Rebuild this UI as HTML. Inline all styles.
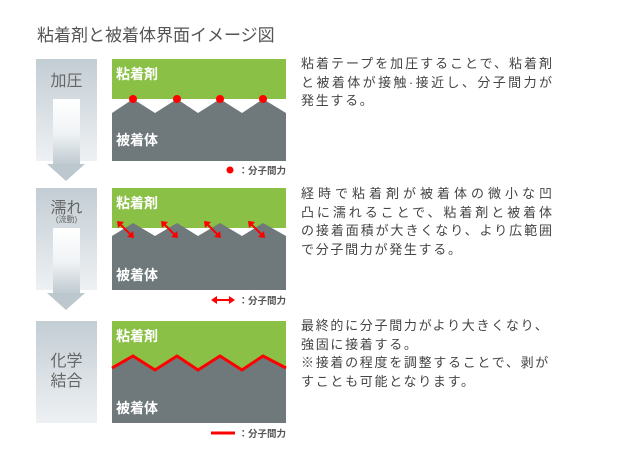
<!DOCTYPE html>
<html><head><meta charset="utf-8"><style>
body{margin:0;background:#fff;}
#root{position:relative;width:620px;height:470px;overflow:hidden;font-family:"Liberation Sans","Noto Sans CJK JP",sans-serif;}
svg{position:absolute;left:0;top:0;}
.desc{position:absolute;left:301px;width:251px;font-size:13px;line-height:18.6px;color:#444;}
.desc div{text-align:justify;text-align-last:justify;white-space:nowrap;}
.desc div.last{text-align-last:left;letter-spacing:1.7px;}
</style></head><body>
<div id="root">
<svg width="620" height="470" font-family="Liberation Sans, Noto Sans CJK JP, sans-serif">
<defs>
<linearGradient id="box" x1="0" y1="0" x2="0" y2="1"><stop offset="0" stop-color="#c3cdd4"/><stop offset="1" stop-color="#eef1f3"/></linearGradient>
<linearGradient id="shaft" x1="0" y1="0" x2="0" y2="1"><stop offset="0" stop-color="#ffffff"/><stop offset="0.5" stop-color="#f0f3f5"/><stop offset="1" stop-color="#bcc7ce"/></linearGradient>
</defs>
<text x="37" y="41" font-size="17" fill="#555">粘着剤と被着体界面イメージ図</text>

<g>
<rect x="36" y="59" width="61" height="102" fill="url(#box)"/>
<text x="66.5" y="86" font-size="16" fill="#666" text-anchor="middle">加圧</text>
<rect x="53" y="99" width="27" height="68" fill="url(#shaft)"/>
<polygon points="47,164 85,164 66,181" fill="#bcc7ce"/>
<rect x="112" y="59" width="174" height="40" fill="#8bc046"/>
<polygon points="112,113 133,99 155,113 177,99 198,113 220,99 242,113 263,99 286,113 286,161 112,161" fill="#6f797c"/>
<text x="116" y="79" font-size="14" fill="#fff" font-weight="bold">粘着剤</text>
<text x="116" y="145" font-size="14" fill="#fff" font-weight="bold">被着体</text>
<circle cx="133" cy="99" r="4" fill="#f00"/><circle cx="177" cy="99" r="4" fill="#f00"/><circle cx="220" cy="99" r="4" fill="#f00"/><circle cx="263" cy="99" r="4" fill="#f00"/>
<circle cx="230" cy="170" r="3.5" fill="#f00"/>
<text x="286" y="174" font-size="9.5" fill="#555" text-anchor="end" font-weight="bold">：分子間力</text>
</g>

<g>
<rect x="36" y="188" width="61" height="102" fill="url(#box)"/>
<text x="66.5" y="213" font-size="16" fill="#666" text-anchor="middle">濡れ</text>
<text x="66.5" y="222" font-size="8" fill="#666" text-anchor="middle">(流動)</text>
<rect x="53" y="228" width="27" height="68" fill="url(#shaft)"/>
<polygon points="47,293 85,293 66,310" fill="#bcc7ce"/>
<rect x="112" y="188" width="174" height="40" fill="#8bc046"/>
<polygon points="112,236 133,223 155,236 177,223 198,236 220,223 242,236 263,223 286,236 286,290 112,290" fill="#6f797c"/>
<text x="116" y="208" font-size="14" fill="#fff" font-weight="bold">粘着剤</text>
<text x="116" y="280" font-size="14" fill="#fff" font-weight="bold">被着体</text>
<g stroke="#f00" stroke-width="2" fill="#f00">
<line x1="120" y1="224" x2="131" y2="235"/><line x1="164" y1="224" x2="175" y2="235"/><line x1="207" y1="224" x2="218" y2="235"/><line x1="251" y1="224" x2="262" y2="235"/>
</g>
<g fill="#f00">
<polygon points="117,221 124,222 118,228"/><polygon points="134,238 127,237 133,231"/>
<polygon points="161,221 168,222 162,228"/><polygon points="178,238 171,237 177,231"/>
<polygon points="204,221 211,222 205,228"/><polygon points="221,238 214,237 220,231"/>
<polygon points="248,221 255,222 249,228"/><polygon points="265,238 258,237 264,231"/>
</g>
<line x1="216" y1="300" x2="230" y2="300" stroke="#f00" stroke-width="2"/>
<polygon points="211,300 217,296 217,304" fill="#f00"/><polygon points="235,300 229,296 229,304" fill="#f00"/>
<text x="286" y="304" font-size="9.5" fill="#555" text-anchor="end" font-weight="bold">：分子間力</text>
</g>

<g>
<rect x="36" y="321" width="61" height="102" fill="url(#box)"/>
<text x="66.5" y="366" font-size="16" fill="#666" text-anchor="middle">化学</text>
<text x="66.5" y="386" font-size="16" fill="#666" text-anchor="middle">結合</text>
<rect x="112" y="321" width="174" height="102" fill="#6f797c"/>
<polygon points="112,321 286,321 286,368 263,356 242,370 220,356 198,370 177,356 155,370 133,356 112,368" fill="#8bc046"/>
<polyline points="112,368 133,356 155,370 177,356 198,370 220,356 242,370 263,356 286,368" fill="none" stroke="#f00" stroke-width="3"/>
<text x="116" y="341" font-size="14" fill="#fff" font-weight="bold">粘着剤</text>
<text x="116" y="413" font-size="14" fill="#fff" font-weight="bold">被着体</text>
<line x1="211" y1="433" x2="235" y2="433" stroke="#f00" stroke-width="3"/>
<text x="286" y="437" font-size="9.5" fill="#555" text-anchor="end" font-weight="bold">：分子間力</text>
</g>
</svg>

<div class="desc" style="top:55px">
<div>粘着テープを加圧することで、粘着剤</div>
<div>と被着体が接触·接近し、分子間力が</div>
<div class="last">発生する。</div>
</div>
<div class="desc" style="top:185px">
<div>経時で粘着剤が被着体の微小な凹</div>
<div>凸に濡れることで、粘着剤と被着体</div>
<div>の接着面積が大きくなり、より広範囲</div>
<div class="last">で分子間力が発生する。</div>
</div>
<div class="desc" style="top:317px">
<div class="last">最終的に分子間力がより大きくなり、</div>
<div class="last">強固に接着する。</div>
<div class="last">※接着の程度を調整することで、剥が</div>
<div class="last">すことも可能となります。</div>
</div>
</div>
</body></html>
